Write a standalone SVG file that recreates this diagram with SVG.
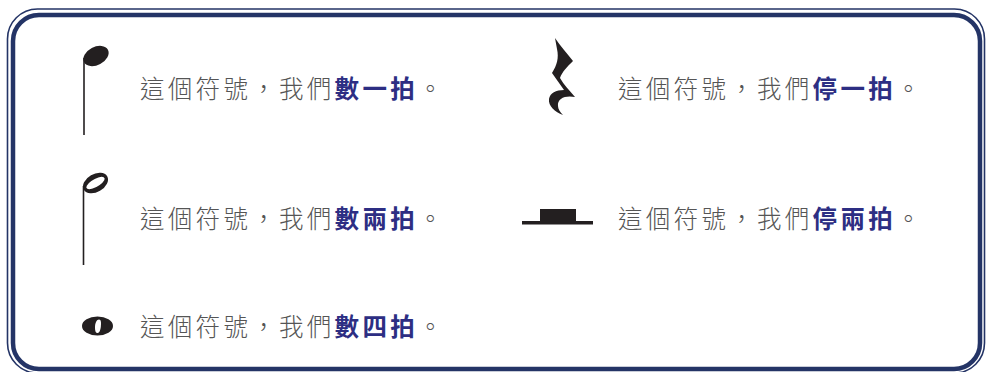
<svg xmlns="http://www.w3.org/2000/svg" width="986" height="372" viewBox="0 0 986 372">
<style>
.t{font-family:"Noto Sans CJK TC","Noto Sans CJK SC",sans-serif;font-size:24.5px;letter-spacing:3.3px;font-weight:300;fill:#555555}
.b{font-weight:bold;fill:#2d2e83}
.ink{fill:#231f20}
</style>
<rect width="986" height="372" fill="#ffffff"/>
<g id="frame" fill="none" stroke="#243466">
<rect x="7.5" y="9" width="977" height="364" rx="30" stroke-width="1.6"/>
<rect x="13" y="15" width="967" height="354" rx="26" stroke-width="4.5"/>
</g>
<g id="quarter-note">
<ellipse class="ink" cx="96" cy="56" rx="13.5" ry="9" transform="rotate(-28 96 56)"/>
<line x1="84" y1="58" x2="84" y2="135" stroke="#231f20" stroke-width="1.6"/>
<text class="t" x="140" y="98">這個符號，我們<tspan class="b">數一拍</tspan>。</text>
</g>
<g id="half-note">
<path class="ink" fill-rule="evenodd" transform="rotate(-30 95.5 183)" d="M82,183 a13.5,9 0 1,0 27,0 a13.5,9 0 1,0 -27,0 Z M85.5,184 a10,3.8 0 1,0 20,-2 a10,3.8 0 1,0 -20,2 Z"/>
<line x1="83.5" y1="186" x2="83.5" y2="265" stroke="#231f20" stroke-width="1.6"/>
<text class="t" x="140" y="228">這個符號，我們<tspan class="b">數兩拍</tspan>。</text>
</g>
<g id="whole-note">
<path class="ink" fill-rule="evenodd" d="M82,326 a15.5,9.5 0 1,0 31,0 a15.5,9.5 0 1,0 -31,0 Z M95,328 C95,322.5 96.8,319.5 99,319.5 C101.2,319.5 101.3,323 100.8,327 C100.2,331.5 98.8,333 97.5,333 C95.8,333 95,331 95,328 Z"/>
<text class="t" x="140" y="336">這個符號，我們<tspan class="b">數四拍</tspan>。</text>
</g>
<g id="quarter-rest">
<path class="ink" d="M555,38 C560,46 567,53 573,61 C567,67 562,72 560,78 C564,85 569,90 575,97 C566,95 557,98 558,106 C558,109 560,112 563,115 C555,112 548,106 549,99 C550,93 556,90 564,90 L552,73 C557,65 559,58 557,49 Z"/>
<text class="t" x="618" y="98">這個符號，我們<tspan class="b">停一拍</tspan>。</text>
</g>
<g id="half-rest">
<rect class="ink" x="522" y="221" width="71" height="3.5"/>
<rect class="ink" x="540" y="209" width="36" height="13"/>
<text class="t" x="618" y="228">這個符號，我們<tspan class="b">停兩拍</tspan>。</text>
</g>
<g id="connectors"/>
</svg>
